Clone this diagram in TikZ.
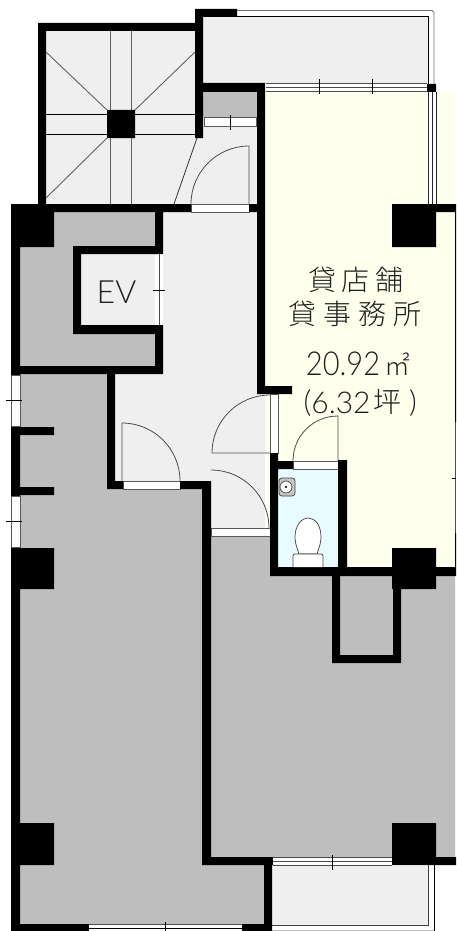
\documentclass[tikz,border=0pt]{standalone}
\usepackage{fontspec}
\setmainfont{Liberation Sans}
\newfontfamily\cjk{Noto Sans CJK JP Light}
\newfontfamily\thinsans{Lato Light}
\definecolor{voidgrey}{HTML}{BEBEBE}
\definecolor{paleroom}{HTML}{EFEFEF}
\definecolor{shopcream}{HTML}{FFFFEE}
\definecolor{wcblue}{HTML}{E8FBFF}
\definecolor{inkgrey}{HTML}{202020}
\tikzset{
  wallfill/.style={fill=black,draw=none},
  thinline/.style={draw=black,line width=0.8pt},
  greyline/.style={draw=black!62,line width=0.9pt},
  doorline/.style={draw=black!70,line width=0.8pt},
  sash/.style={fill=white,draw=black!65,line width=0.8pt},
  label/.style={text=inkgrey,inner sep=0pt,anchor=center},
  fixture/.style={draw=black!75,fill=white,line width=0.7pt},
}
\begin{document}
\begin{tikzpicture}[x=1pt,y=-1pt]
\useasboundingbox (0,0) rectangle (456,931);
\fill[white] (0,0) rectangle (456,931);
% room fills
\fill[paleroom] (46,31) rectangle (195,204);
\fill[paleroom] (203,17) rectangle (428,83);
\fill[paleroom] (195,117) rectangle (257,212);
\fill[voidgrey] (203,92) rectangle (257,117);
\fill[paleroom] (115,366) rectangle (270,481);
\fill[paleroom] (163,212) rectangle (270,536);
\fill[paleroom] (81,254) rectangle (159,325);
\fill[shopcream] (265,92) rectangle (455,570);
\fill[wcblue] (278,469) rectangle (339,567);
\fill[voidgrey] (20,212) -- (155,212) -- (155,246) -- (73,246) -- (73,334) -- (155,334) -- (155,366) -- (20,366) -- cycle;
\fill[voidgrey] (20,374) -- (107,374) -- (107,489) -- (202,489) -- (202,865) -- (264,865) -- (264,924) -- (20,924) -- cycle;
\fill[voidgrey] (211,536) -- (270,536) -- (270,576) -- (455,576) -- (455,857) -- (211,857) -- cycle;
\fill[paleroom] (272,866) rectangle (428,925);
% stair lines
\draw[greyline] (110.5,31) -- (110.5,204) (131,31) -- (131,204);
\draw[thinline] (46,114.5) -- (195,114.5) (46,134.5) -- (195,134.5);
\draw[greyline] (46,52) -- (107,110) (195,52) -- (135,110) (46,198) -- (107,138);
\draw[thinline,black!80] (197,138) -- (174,204);
% balcony rails
\draw[black!55,line width=0.8pt] (237,10.5) -- (432,10.5) -- (434,12.5) -- (434,84);
\draw[thinline] (237,16) -- (428,16) -- (428,84);
\draw[black!75,line width=0.8pt] (428,865) -- (428,925) -- (272,925);
\draw[thinline] (434,865) -- (434,931);
\draw[black!25,line width=0.8pt] (272,930) -- (434,930);
% top window, right window
\fill[white] (266,83) rectangle (427,92);
\draw[black!70,line width=0.8pt] (266,83.5) -- (427,83.5) (266,87.5) -- (427,87.5) (266,91.5) -- (427,91.5);
\draw[thinline] (319,79) -- (319,94) (372.5,79) -- (372.5,94);
\fill[white] (428,92) rectangle (436,204);
\draw[black!85,line width=0.8pt] (428,92) -- (428,204) (432,92) -- (432,204) (436,92) -- (436,204);
% small window in the upper hall
\filldraw[sash] (204,117) rectangle (256,126);
\draw[thinline] (230,115) -- (230,130);
% doors
\filldraw[sash] (191,204) rectangle (249,212);
\draw[doorline] (249,204) -- (249,146) .. controls (217,146) and (191,172) .. (191,204);
\filldraw[sash] (123,481) rectangle (180,489);
\draw[doorline] (122,481) -- (122,423) .. controls (154,423) and (180,449) .. (180,481);
\draw[doorline] (270,453) -- (212,453) .. controls (212,421) and (238,395) .. (270,395);
\filldraw[sash] (270,394) rectangle (278,453);
\filldraw[sash] (211,528) rectangle (270,536);
\draw[doorline] (211,470) .. controls (243,470) and (269,496) .. (269,528);
\filldraw[sash] (293,461) rectangle (338,469);
\draw[doorline] (293,461) .. controls (293,436) and (313,416) .. (338,416) -- (338,461);
% EV door
\fill[white] (155,254) rectangle (159,325);
\draw[black!70,line width=0.8pt] (159.5,254) -- (159.5,325);
\draw[thinline] (153,290) -- (165,290);
% walls
\fill[wallfill]
 (38,23) rectangle (203,31)
 (38,23) rectangle (46,204)
 (195,9) rectangle (203,138)
 (195,9) rectangle (237,17)
 (203,83) rectangle (265,92)
 (257,83) rectangle (265,394)
 (257,386) rectangle (292,394)
 (107,110) rectangle (135,138)
 (427,84) rectangle (436,92)
 (11,204) rectangle (191,212)
 (249,204) rectangle (265,212)
 (392,204) rectangle (456,212)
 (392,204) rectangle (436,247)
 (11,204) rectangle (54,247)
 (11,204) rectangle (20,375)
 (73,246) rectangle (163,254)
 (73,246) rectangle (81,334)
 (155,212) rectangle (163,254)
 (73,325) rectangle (163,334)
 (155,325) rectangle (163,374)
 (11,366) rectangle (163,374)
 (107,366) rectangle (115,489)
 (107,481) rectangle (123,489)
 (180,481) rectangle (211,489)
 (202,481) rectangle (211,865)
 (11,426) rectangle (20,496)
 (11,427) rectangle (54,435)
 (11,487) rectangle (54,495)
 (11,547) rectangle (20,931)
 (11,548) rectangle (54,589)
 (11,823) rectangle (54,865)
 (270,453) rectangle (278,576)
 (270,461) rectangle (293,469)
 (338,460) rectangle (347,576)
 (270,567) rectangle (456,576)
 (392,548) rectangle (436,589)
 (332,576) rectangle (340,663)
 (393,576) rectangle (401,663)
 (332,655) rectangle (401,663)
 (202,857) rectangle (273,865)
 (264,857) rectangle (272,931)
 (11,924) rectangle (89,931)
 (242,924) rectangle (272,931)
 (392,823) rectangle (436,865)
 (392,857) rectangle (456,865)
 (455,204) rectangle (456,422)
 (455,533) rectangle (456,576);
\draw[black!70,line width=0.8pt] (455.5,422) -- (455.5,533);
\draw[thinline] (452,478) -- (456,478);
% side windows
\filldraw[sash] (11,375) rectangle (20,426);
\draw[thinline] (6,400.5) -- (22,400.5);
\filldraw[sash] (11,496) rectangle (20,547);
\draw[thinline] (6,521.5) -- (22,521.5);
% south windows
\fill[white] (273,857) rectangle (392,866);
\draw[black!70,line width=0.8pt] (273,857.5) -- (392,857.5) (273,861.5) -- (392,861.5) (273,865.5) -- (392,865.5);
\draw[thinline] (332,855) -- (332,870);
\fill[white] (89,924) rectangle (242,931);
\draw[black!70,line width=0.8pt] (89,924.5) -- (242,924.5);
\draw[thinline] (89,928.5) -- (242,928.5) (165.5,922) -- (165.5,931);
% WC fixtures
\filldraw[fixture,fill=black!22,rounded corners=3pt] (279,478) rectangle (295,496);
\filldraw[fixture] (286,487) circle[radius=6];
\fill[black!85] (286,487) circle[radius=1.3];
\filldraw[fixture] (299,554) .. controls (297,548) and (295,543) .. (295,537) .. controls (295,525) and (302,518) .. (308,518) .. controls (315,518) and (321,525) .. (321,537) .. controls (321,543) and (319,548) .. (317,554) -- cycle;
\filldraw[fixture,rounded corners=2pt] (293,567) -- (293,554) -- (323,554) -- (323,567);
% texts
\node[label,font=\thinsans\fontsize{32}{32}\selectfont] (evtext) at (116.5,292.5) {EV};
\node[label,font=\cjk\fontsize{28}{28}\selectfont] (shoptext) at (356,280) {貸\hspace{6pt}店\hspace{6pt}舗};
\node[label,font=\cjk\fontsize{28}{28}\selectfont] (officetext) at (355,314) {貸\hspace{7pt}事\hspace{7pt}務\hspace{7pt}所};
\node[label,font=\thinsans\fontsize{33}{33}\selectfont,transform shape,xscale=0.88] (areatext) at (343,364) {20.92};
\node[label,font=\cjk\fontsize{26}{26}\selectfont] (sqmtext) at (397,364) {㎡};
\node[label,font=\thinsans\fontsize{30}{30}\selectfont] (openparen) at (307.5,403) {(};
\node[label,font=\thinsans\fontsize{30}{30}\selectfont] (tsubonum) at (341,403) {6.32};
\node[label,font=\cjk\fontsize{28}{28}\selectfont] (tsubochar) at (387,402) {坪};
\node[label,font=\thinsans\fontsize{30}{30}\selectfont] (closeparen) at (413,403) {)};
\end{tikzpicture}
\end{document}
